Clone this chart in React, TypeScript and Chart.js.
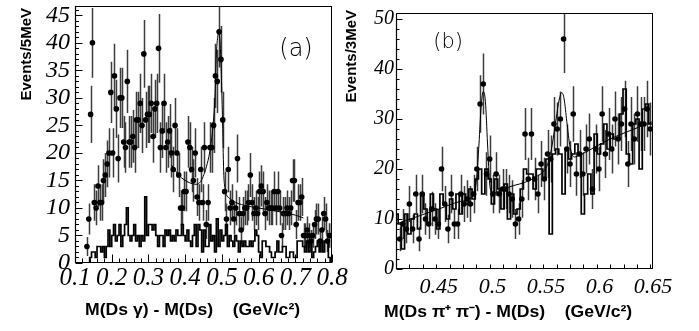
import React, { useEffect, useRef } from 'react';
import { Chart, registerables } from 'chart.js';
Chart.register(...registerables);

// ---------- Panel (a): M(Ds gamma) - M(Ds), 5 MeV bins ----------
const A_POINT_START = 0.1325;
const A_POINT_WIDTH = 0.005;
const aCounts = [
  3, 8, 27, 40, 11, 10, 14, 11, 11, 15, 16, 18, 20, 31, 20, 34, 28, 19, 30, 30,
  22, 21, 33, 22, 22, 23, 21, 26, 26, 29, 25, 38, 26, 27, 27, 29, 23, 28, 29, 39,
  21, 24, 29, 21, 22, 24,
  20, 17, 25, 20, 16, 10, 10, 13, 13, 22, 21, 17, 15, 20, 12, 11, 17, 11,
  21, 7, 11, 21, 21, 25, 34, 33, 42, 37, 26, 13, 8, 17, 10, 11, 8, 10, 19, 9,
  6, 9, 10, 10, 11, 16, 11, 9, 10, 9, 13, 14, 13, 9, 11, 10, 10, 10, 13, 10,
  13, 10, 5, 9, 9, 10, 9, 10, 15, 15, 7, 11, 11, 12, 5, 5, 6, 5, 4, 5,
  7, 8, 8, 4, 6, 9, 8, 4, 5, 5,
];
const A_HIST_START = 0.1;
const A_HIST_WIDTH = 0.005;
const aBackground = [
  0, 0, 0, 0, 0, 0, 0, 0,
  1, 2, 2, 1, 3, 3, 2, 3, 1, 3,
  6, 3, 5, 7, 4, 5, 7, 3, 5, 7,
  10, 5, 4, 5, 7, 4, 5, 3, 5, 4,
  12, 5, 7, 7, 6, 7, 5, 3, 5, 5,
  3, 6, 5, 6, 4, 5, 4, 6, 5, 5,
  7, 5, 4, 6, 4, 3, 5, 7, 3, 7,
  6, 2, 6, 3, 3, 7, 4, 5, 2, 8,
  3, 6, 4, 5, 7, 3, 5, 4, 3, 5,
  4, 2, 4, 3, 4, 3, 3, 4, 3, 4,
  6, 5, 2, 1, 4, 4, 3, 3, 2, 1,
  1, 2, 4, 2, 2, 3, 3, 1, 1, 2,
  2, 1, 1, 4, 4, 4, 3, 2, 4, 2,
  4, 1, 2, 3, 4, 2, 4, 2, 4, 4,
  1, 0,
];
const aFitX = [0.363, 0.375, 0.39, 0.405, 0.42, 0.432, 0.442, 0.449, 0.458, 0.467, 0.476, 0.481, 0.485, 0.4885, 0.4915, 0.496, 0.5015, 0.505, 0.5085, 0.5125, 0.52, 0.535, 0.56, 0.6, 0.65, 0.7, 0.722];
const aFitY = [17.8, 16.6, 15.5, 14.8, 14.4, 14.3, 14.8, 15.7, 17.5, 20.2, 25, 30, 37.8, 41, 41.8, 39, 27, 16.6, 13.5, 12.4, 11.8, 11.1, 10.5, 10.0, 9.4, 8.7, 8.2];
const aXTicks = [0.1, 0.2, 0.3, 0.4, 0.5, 0.6, 0.7, 0.8];
const aXTickLabels = ['0.1', '0.2', '0.3', '0.4', '0.5', '0.6', '0.7', '0.8'];
const aYTicks = [0, 5, 10, 15, 20, 25, 30, 35, 40, 45];
const aYTickLabels = ['0', '5', '10', '15', '20', '25', '30', '35', '40', '45'];

// ---------- Panel (b): M(Ds pi+ pi-) - M(Ds), 3 MeV bins ----------
const B_POINT_START = 0.4135;
const B_POINT_WIDTH = 0.003;
const bCounts = [
  6, 9, 8, 13, 8, 15, 6, 15, 10, 9,
  12, 10, 9, 20, 13, 8, 15, 9, 9, 15,
  13, 14, 13, 15, 20, 33, 37, 19, 22, 15,
  19, 15, 16, 16, 15, 14, 9, 10, 14, 27,
  18, 27, 18, 15, 21, 18, 23, 22, 29, 28,
  30, 46, 24, 21, 31, 19, 23, 19, 24, 26,
  16, 24, 20, 31, 23, 27, 24, 30, 26, 29,
  32, 21, 29, 26, 31, 29, 29, 32, 28,
];
const B_HIST_START = 0.409;
const B_HIST_WIDTH = 0.003;
const bBackground = [
  11, 9, 4, 11, 7, 10, 11, 8, 15, 12,
  9, 15, 12, 8, 15, 13, 10, 14, 12, 15,
  11, 15, 13, 16, 14, 18, 20, 15, 20, 18,
  13, 18, 16, 12, 17, 10, 15, 11, 12, 16,
  20, 19, 19, 16, 20, 20, 18, 22, 7, 23,
  24, 23, 15, 24, 22, 23, 25, 23, 11, 15,
  19, 15, 27, 23, 25, 29, 24, 27, 26, 26,
  31, 36, 23, 21, 29, 30, 20, 32, 33, 29,
];
const bFitX = [0.41, 0.43, 0.45, 0.47, 0.481, 0.485, 0.4875, 0.4895, 0.4915, 0.4935, 0.4955, 0.4975, 0.5, 0.51, 0.52, 0.53, 0.542, 0.548, 0.5525, 0.556, 0.5595, 0.5625, 0.5648, 0.567, 0.5695, 0.5725, 0.5765, 0.582, 0.595, 0.61, 0.63, 0.65];
const bFitY = [9, 10.5, 12, 13.5, 14.4, 17.5, 25, 32.5, 35.5, 33.5, 25, 17, 15.2, 16, 16.7, 17.3, 18.6, 19.6, 21.5, 25, 30, 34, 35.3, 34, 29.5, 24.5, 22.4, 22.8, 24.3, 26, 27.8, 29.5];
const bXTicks = [0.45, 0.5, 0.55, 0.6, 0.65];
const bXTickLabels = ['0.45', '0.5', '0.55', '0.6', '0.65'];
const bYTicks = [0, 10, 20, 30, 40, 50];
const bYTickLabels = ['0', '10', '20', '30', '40', '50'];

// ---------- helpers ----------
function pointData(start: number, width: number, counts: number[]) {
  return counts.map((c, i) => ({ x: start + i * width, y: c }));
}
function histData(start: number, width: number, vals: number[]) {
  const pts = vals.map((v, i) => ({ x: start + i * width, y: v }));
  pts.push({ x: start + vals.length * width, y: vals[vals.length - 1] });
  return pts;
}
function curveData(xs: number[], ys: number[]) {
  return xs.map((x, i) => ({ x, y: ys[i] }));
}
function labelFor(ticks: number[], labels: string[], v: number) {
  const i = ticks.findIndex((t) => Math.abs(t - v) < 1e-9);
  return i >= 0 ? labels[i] : '';
}

const errorBarPlugin = {
  id: 'errorBars',
  beforeDatasetsDraw(chart: any) {
    const { ctx, chartArea: ca, scales } = chart;
    const xs = scales.x, ys = scales.y;
    const data = chart.data.datasets[0].data as { x: number; y: number }[];
    ctx.save();
    ctx.beginPath();
    ctx.rect(ca.left, ca.top, ca.right - ca.left, ca.bottom - ca.top);
    ctx.clip();
    ctx.strokeStyle = '#3c3c3c';
    ctx.lineWidth = 1.5;
    ctx.beginPath();
    data.forEach((p) => {
      const e = Math.sqrt(p.y);
      const px = Math.round(xs.getPixelForValue(p.x)) + 0.5;
      ctx.moveTo(px, ys.getPixelForValue(p.y - e));
      ctx.lineTo(px, ys.getPixelForValue(p.y + e));
    });
    ctx.stroke();
    ctx.restore();
  },
};

const framePlugin = {
  id: 'frame',
  afterDatasetsDraw(chart: any, _a: any, o: any) {
    const { ctx, chartArea: ca, scales } = chart;
    const xs = scales.x, ys = scales.y;
    const L = Math.round(ca.left) + 0.5, R = Math.round(ca.right) - 0.5;
    const T = Math.round(ca.top) + 0.5, B = Math.round(ca.bottom) - 0.5;
    ctx.save();
    ctx.strokeStyle = '#000';
    ctx.lineWidth = 1;
    ctx.strokeRect(L, T, R - L, B - T);
    ctx.lineWidth = 1.2;
    ctx.beginPath();
    ctx.moveTo(L, T); ctx.lineTo(L, B); ctx.lineTo(R, B);
    ctx.stroke();
    ctx.lineWidth = 1;
    ctx.beginPath();
    const eps = 1e-7;
    for (let v = xs.min; v <= xs.max + eps; v += o.xMinor) {
      const rel = Math.abs(v / o.xMajor - Math.round(v / o.xMajor));
      const len = rel < 1e-4 ? o.xMajorLen : o.xMinorLen;
      const px = Math.round(xs.getPixelForValue(v)) + 0.5;
      ctx.moveTo(px, B);
      ctx.lineTo(px, B - len);
    }
    for (let v = ys.min; v <= ys.max + eps; v += o.yMinor) {
      const rel = Math.abs(v / o.yMajor - Math.round(v / o.yMajor));
      const len = rel < 1e-4 ? o.yMajorLen : o.yMinorLen;
      const py = Math.round(ys.getPixelForValue(v)) + 0.5;
      ctx.moveTo(L, py);
      ctx.lineTo(L + len, py);
    }
    ctx.stroke();
    ctx.restore();
  },
};

const textPlugin = {
  id: 'panelTexts',
  afterDraw(chart: any, _a: any, o: any) {
    const { ctx, chartArea: ca, scales } = chart;
    ctx.save();
    ctx.fillStyle = '#000';
    ctx.save();
    ctx.font = o.yTitleFont;
    ctx.translate(ca.left + o.yTitleDx, ca.top + o.yTitleDy);
    ctx.rotate(-Math.PI / 2);
    ctx.textAlign = 'right';
    ctx.textBaseline = 'middle';
    ctx.fillText(o.yTitle, 0, 0);
    ctx.restore();
    ctx.save();
    ctx.font = o.xTitleFont;
    ctx.translate(ca.left + o.xTitleDx, ca.bottom + o.xTitleDy);
    ctx.scale(o.xTitleStretch, 1);
    ctx.textAlign = 'left';
    ctx.textBaseline = 'alphabetic';
    ctx.fillText(o.xTitle, 0, 0);
    ctx.restore();
    ctx.font = o.tagFont;
    ctx.textAlign = 'center';
    ctx.textBaseline = 'middle';
    ctx.fillText(o.tag, scales.x.getPixelForValue(o.tagX), scales.y.getPixelForValue(o.tagY));
    ctx.restore();
  },
};

interface PanelCfg {
  points: { x: number; y: number }[];
  hist: { x: number; y: number }[];
  fit: { x: number; y: number }[];
  xMin: number; xMax: number; yMin: number; yMax: number;
  xTicks: number[]; xLabels: string[]; yTicks: number[]; yLabels: string[];
  yAxisWidth: number; xAxisHeight: number;
  padding: { left: number; right: number; top: number; bottom: number };
  xFont: number; yFont: number; xPad: number; yPad: number;
  frame: any; texts: any;
}

function makeConfig(c: PanelCfg): any {
  const tickFont = (size: number) => ({ family: '"Liberation Serif", "DejaVu Serif", serif', size, style: 'italic' as const, weight: 'normal' as const, lineHeight: 1.2 });
  return {
    type: 'scatter',
    data: {
      datasets: [
        { data: c.points, pointRadius: 2.8, pointBackgroundColor: '#000', pointBorderWidth: 0, borderWidth: 0, showLine: false },
        { data: c.fit, showLine: true, borderColor: '#000', borderWidth: 1, pointRadius: 0, fill: false, cubicInterpolationMode: 'monotone' },
        { data: c.hist, showLine: true, stepped: true, borderColor: '#000', borderWidth: 1.7, pointRadius: 0, fill: false },
      ],
    },
    options: {
      responsive: false,
      animation: false,
      devicePixelRatio: 1,
      events: [],
      layout: { padding: c.padding },
      plugins: {
        legend: { display: false },
        tooltip: { enabled: false },
        frame: c.frame,
        panelTexts: c.texts,
      },
      scales: {
        x: {
          type: 'linear', min: c.xMin, max: c.xMax,
          afterBuildTicks: (s: any) => { s.ticks = c.xTicks.map((v) => ({ value: v })); },
          afterFit: (s: any) => { s.height = c.xAxisHeight; s.paddingLeft = 0; s.paddingRight = 0; },
          grid: { display: false, drawTicks: false },
          border: { display: false },
          ticks: { autoSkip: false, maxRotation: 0, minRotation: 0, padding: c.xPad, color: '#000', font: tickFont(c.xFont), callback: (v: number) => labelFor(c.xTicks, c.xLabels, v) },
        },
        y: {
          type: 'linear', min: c.yMin, max: c.yMax,
          afterBuildTicks: (s: any) => { s.ticks = c.yTicks.map((v) => ({ value: v })); },
          afterFit: (s: any) => { s.width = c.yAxisWidth; s.paddingTop = 0; s.paddingBottom = 0; },
          grid: { display: false, drawTicks: false },
          border: { display: false },
          ticks: { autoSkip: false, padding: c.yPad, color: '#000', font: tickFont(c.yFont), callback: (v: number) => labelFor(c.yTicks, c.yLabels, v) },
        },
      },
    },
    plugins: [errorBarPlugin, framePlugin, textPlugin],
  };
}

const titleFont = 'bold 15px "Liberation Sans", Arial, sans-serif';
const xTitleFont = 'bold 16px "Liberation Sans", Arial, sans-serif';
const tagFontA = '200 24px "DejaVu Sans", sans-serif';
const tagFontB = '200 21px "DejaVu Sans", sans-serif';

export default function App() {
  const refA = useRef<HTMLCanvasElement>(null);
  const refB = useRef<HTMLCanvasElement>(null);

  useEffect(() => {
    document.body.style.margin = '0';
    const cfgA = makeConfig({
      points: pointData(A_POINT_START, A_POINT_WIDTH, aCounts),
      hist: histData(A_HIST_START, A_HIST_WIDTH, aBackground),
      fit: curveData(aFitX, aFitY),
      xMin: 0.1, xMax: 0.8, yMin: 0, yMax: 46.7,
      xTicks: aXTicks, xLabels: aXTickLabels, yTicks: aYTicks, yLabels: aYTickLabels,
      yAxisWidth: 75, xAxisHeight: 68,
      padding: { left: 0, right: 28, top: 6, bottom: 0 },
      xFont: 25, yFont: 24, xPad: 0, yPad: 5,
      frame: { xMinor: 0.02, xMajor: 0.1, xMajorLen: 8, xMinorLen: 4, yMinor: 1, yMajor: 5, yMajorLen: 7, yMinorLen: 3.5 },
      texts: {
        yTitle: 'Events/5MeV', yTitleFont: titleFont, yTitleDx: -48, yTitleDy: 2,
        xTitle: 'M(Ds \u03b3) - M(Ds)    (GeV/c\u00b2)', xTitleFont, xTitleDx: 10, xTitleDy: 52, xTitleStretch: 1.1,
        tag: '(a)', tagFont: tagFontA, tagX: 0.702, tagY: 38.7,
      },
    });
    const cfgB = makeConfig({
      points: pointData(B_POINT_START, B_POINT_WIDTH, bCounts),
      hist: histData(B_HIST_START, B_HIST_WIDTH, bBackground),
      fit: curveData(bFitX, bFitY),
      xMin: 0.41, xMax: 0.65, yMin: 0, yMax: 51.2,
      xTicks: bXTicks, xLabels: bXTickLabels, yTicks: bYTicks, yLabels: bYTickLabels,
      yAxisWidth: 56, xAxisHeight: 62,
      padding: { left: 0, right: 46, top: 13, bottom: 0 },
      xFont: 22, yFont: 20, xPad: 5, yPad: 2,
      frame: { xMinor: 0.0125, xMajor: 0.05, xMajorLen: 7, xMinorLen: 4, yMinor: 2, yMajor: 10, yMajorLen: 6, yMinorLen: 3 },
      texts: {
        yTitle: 'Events/3MeV', yTitleFont: titleFont, yTitleDx: -44, yTitleDy: -3,
        xTitle: 'M(Ds \u03c0\u207a \u03c0\u207b) - M(Ds)    (GeV/c\u00b2)', xTitleFont, xTitleDx: -12, xTitleDy: 48, xTitleStretch: 1.1,
        tag: '(b)', tagFont: tagFontB, tagX: 0.4586, tagY: 45.2,
      },
    });
    const a = new Chart(refA.current as HTMLCanvasElement, cfgA);
    const b = new Chart(refB.current as HTMLCanvasElement, cfgB);
    return () => { a.destroy(); b.destroy(); };
  }, []);

  return (
    <div style={{ position: 'relative', width: 699, height: 331, background: '#fff', overflow: 'hidden' }}>
      <canvas ref={refA} width={360} height={331} style={{ position: 'absolute', left: 0, top: 0, width: 360, height: 331 }} />
      <canvas ref={refB} width={359} height={331} style={{ position: 'absolute', left: 340, top: 0, width: 359, height: 331 }} />
    </div>
  );
}
